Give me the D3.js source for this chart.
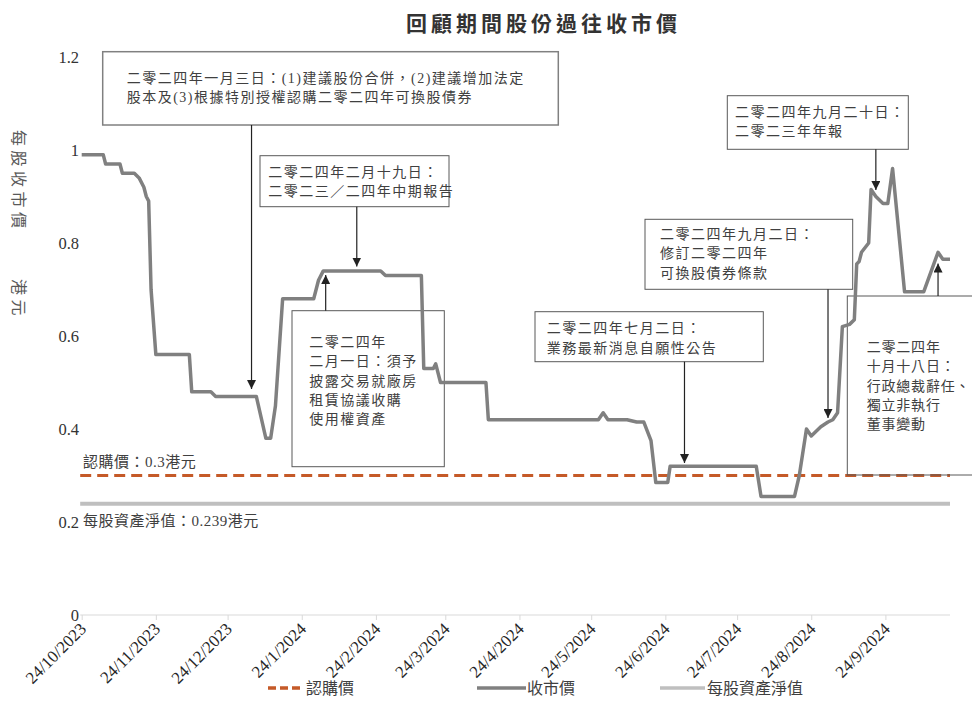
<!DOCTYPE html>
<html>
<head>
<meta charset="utf-8">
<script src="https://cdn.jsdelivr.net/npm/d3@7/dist/d3.min.js"></script>
<style>
  html, body { margin: 0; padding: 0; background: #fff; }
  svg { display: block; }
</style>
</head>
<body>
<svg id="chart" width="972" height="723"></svg>
<script>
// ---------------- DATA ----------------
const closeDates = [
  "2023-10-24","2023-11-02","2023-11-03","2023-11-09","2023-11-10","2023-11-15","2023-11-17","2023-11-19",
  "2023-11-20","2023-11-21","2023-11-22","2023-11-24","2023-12-08","2023-12-09","2023-12-17","2023-12-19",
  "2024-01-05","2024-01-09","2024-01-11","2024-01-13","2024-01-16","2024-01-29","2024-01-31","2024-02-02",
  "2024-02-26","2024-02-28","2024-03-14","2024-03-15","2024-03-19","2024-03-20","2024-03-22","2024-04-10",
  "2024-04-11","2024-05-27","2024-05-29","2024-05-31","2024-06-08","2024-06-12","2024-06-15","2024-06-18",
  "2024-06-20","2024-06-25","2024-06-26","2024-08-01","2024-08-03","2024-08-17","2024-08-19","2024-08-22",
  "2024-08-24","2024-08-28","2024-08-31","2024-09-02","2024-09-04","2024-09-06","2024-09-09","2024-09-11",
  "2024-09-12","2024-09-13","2024-09-14","2024-09-17","2024-09-18","2024-09-20","2024-09-23","2024-09-25",
  "2024-09-27","2024-10-02","2024-10-10","2024-10-16","2024-10-18","2024-10-21"
];
const closePrices = [
  0.99,0.99,0.97,0.97,0.95,0.95,0.94,0.92,
  0.90,0.89,0.70,0.56,0.56,0.48,0.48,0.47,
  0.47,0.38,0.38,0.45,0.68,0.68,0.72,0.74,
  0.74,0.73,0.73,0.53,0.53,0.54,0.50,0.50,
  0.42,0.42,0.435,0.42,0.42,0.415,0.415,0.375,
  0.285,0.285,0.32,0.32,0.255,0.255,0.30,0.40,
  0.385,0.405,0.415,0.42,0.435,0.62,0.625,0.635,
  0.755,0.76,0.78,0.80,0.915,0.90,0.885,0.885,
  0.96,0.695,0.695,0.78,0.765,0.765
];
const subscriptionPrice = 0.3;
const navPerShare = 0.239;
const xDomainDates = ["2023-10-24", "2024-10-21"];
const xTickDates = ["2023-10-24","2023-11-24","2023-12-24","2024-01-24","2024-02-24","2024-03-24",
                    "2024-04-24","2024-05-24","2024-06-24","2024-07-24","2024-08-24","2024-09-24"];
const yTicks = [0, 0.2, 0.4, 0.6, 0.8, 1, 1.2];
const titleText = "回顧期間股份過往收市價";
const yTitleParts = ["每股收市價", "港元"];
const legendLabels = ["認購價", "收市價", "每股資產淨值"];
const refLabels = ["認購價：0.3港元", "每股資產淨值：0.239港元"];

// annotation texts and the dates their arrows point at
const annotationTexts = [
  ["二零二四年一月三日：(1)建議股份合併，(2)建議增加法定", "股本及(3)根據特別授權認購二零二四年可換股債券"],
  ["二零二四年二月十九日：", "二零二三／二四年中期報告"],
  ["二零二四年", "二月一日：須予", "披露交易就廠房", "租賃協議收購", "使用權資產"],
  ["二零二四年七月二日：", "業務最新消息自願性公告"],
  ["二零二四年九月二日：", "修訂二零二四年", "可換股債券條款"],
  ["二零二四年九月二十日：", "二零二三年年報"],
  ["二零二四年", "十月十八日：", "行政總裁辭任、", "獨立非執行", "董事變動"]
];
const annotationArrowDates = ["2024-01-03","2024-02-16","2024-02-03","2024-07-02","2024-08-31","2024-09-20","2024-10-16"];

// ---------------- LAYOUT ----------------
// box: [x, y, w, h]; text: [x, firstBaseline]; arrow: [fromY, toY]
const annLayout = [
  { box: [102.7, 51.7, 455.6, 73.3], text: [126.7, 82.5], arrow: [125, 389], stroke: "#808080", sw: 1.5, ls: 1.5 },
  { box: [260, 155.7, 189, 51],      text: [268.3, 176.7], arrow: [206.7, 266.5], stroke: "#595959", sw: 1, ls: 1.5 },
  { box: [292, 310.7, 152.3, 156],   text: [309.3, 346.7], arrow: [310.7, 275], stroke: "#595959", sw: 1, ls: 1.5 },
  { box: [535, 311.7, 228.3, 50],    text: [546.7, 333.3], arrow: [361.7, 463], stroke: "#595959", sw: 1, ls: 1.5 },
  { box: [645, 219.3, 207.7, 70],    text: [660, 239], arrow: [289.3, 418], stroke: "#595959", sw: 1, ls: 1.5 },
  { box: [727.3, 95.7, 181, 53.6],   text: [735, 116.7], arrow: [149.3, 190], stroke: "#595959", sw: 1, ls: 1.5 },
  { box: [847.3, 296, 160, 179],     text: [866.7, 351.7], arrow: [296, 263.5], stroke: "#595959", sw: 1, ls: 0.8 }
];
const lineHeight = 19.4;

const serif = "'Liberation Serif','Noto Sans CJK TC','Noto Sans CJK SC',serif";
const sans = "'Noto Sans CJK TC','Noto Sans CJK SC',sans-serif";

const svg = d3.select("#chart");
const parse = d3.timeParse("%Y-%m-%d");

const x = d3.scaleTime().domain(xDomainDates.map(parse)).range([81.7, 950]);
const y = d3.scaleLinear().domain([0, 1.2]).range([615, 57]);

// title
svg.append("text")
  .attr("x", 543.5).attr("y", 31)
  .attr("text-anchor", "middle")
  .attr("font-family", sans).attr("font-weight", "bold")
  .attr("font-size", 21).attr("letter-spacing", 4)
  .attr("fill", "#333")
  .text(titleText);

// y axis title (rotated)
[[130, yTitleParts[0]], [279, yTitleParts[1]]].forEach(([yy, t]) => {
  svg.append("text")
    .attr("transform", `translate(18,${yy}) rotate(90)`)
    .attr("dominant-baseline", "central")
    .attr("font-family", serif).attr("font-size", 16).attr("letter-spacing", 4.5)
    .attr("fill", "#595959")
    .text(t);
});

// y tick labels (no axis line)
const yAxis = d3.axisLeft(y).tickValues(yTicks).tickSize(0).tickPadding(0)
  .tickFormat(d => d3.format("")(+d.toFixed(1)));
const gy = svg.append("g").attr("transform", "translate(79,0)").call(yAxis);
gy.select(".domain").remove();
gy.selectAll("text").attr("font-family", serif).attr("font-size", 16.5).attr("fill", "#333");

// x axis
const xAxis = d3.axisBottom(x).tickValues(xTickDates.map(parse)).tickSize(5).tickFormat(d3.timeFormat("%-d/%-m/%Y"));
const gx = svg.append("g").attr("transform", `translate(0,${y(0)})`).call(xAxis);
gx.select(".domain").attr("stroke", "#D9D9D9").attr("d", `M${x.range()[0] - 1.5},0H${x.range()[1]}`);
gx.selectAll(".tick line").attr("stroke", "#D9D9D9");
gx.selectAll(".tick text")
  .attr("font-family", serif).attr("font-size", 17).attr("fill", "#262626")
  .attr("text-anchor", "end")
  .attr("dy", 0)
  .attr("transform", "translate(5,15) rotate(-45)")
  .attr("x", 0).attr("y", 0);

// reference lines
svg.append("line")
  .attr("x1", x.range()[0] - 1.5).attr("x2", x.range()[1])
  .attr("y1", y(subscriptionPrice)).attr("y2", y(subscriptionPrice))
  .attr("stroke", "#C55A28").attr("stroke-width", 3.2).attr("stroke-dasharray", "11,6");
svg.append("line")
  .attr("x1", x.range()[0] - 1.5).attr("x2", x.range()[1])
  .attr("y1", y(navPerShare)).attr("y2", y(navPerShare))
  .attr("stroke", "#BFBFBF").attr("stroke-width", 4);

// ref labels
svg.append("text").attr("x", 83).attr("y", 467)
  .attr("font-family", serif).attr("font-size", 15).attr("letter-spacing", 0.5).attr("fill", "#404040")
  .text(refLabels[0]);
svg.append("text").attr("x", 83).attr("y", 525.5)
  .attr("font-family", serif).attr("font-size", 15).attr("letter-spacing", 0.5).attr("fill", "#404040")
  .text(refLabels[1]);

// annotation boxes + text
const defs = svg.append("defs");
defs.append("marker").attr("id", "ah").attr("viewBox", "0 0 10 10")
  .attr("refX", 10).attr("refY", 5).attr("markerWidth", 9).attr("markerHeight", 9)
  .attr("markerUnits", "userSpaceOnUse").attr("orient", "auto")
  .append("path").attr("d", "M0,0L10,5L0,10Z").attr("fill", "#222");

annotationTexts.forEach((lines, i) => {
  const L = annLayout[i];
  svg.append("rect")
    .attr("x", L.box[0]).attr("y", L.box[1]).attr("width", L.box[2]).attr("height", L.box[3])
    .attr("fill", "none").attr("stroke", L.stroke).attr("stroke-width", L.sw);
  const t = svg.append("text")
    .attr("font-family", serif).attr("font-size", 14).attr("letter-spacing", L.ls).attr("fill", "#404040");
  lines.forEach((ln, j) => {
    t.append("tspan").attr("x", L.text[0]).attr("y", L.text[1] + j * lineHeight).text(ln);
  });
  const ax = x(parse(annotationArrowDates[i]));
  svg.append("line")
    .attr("x1", ax).attr("x2", ax).attr("y1", L.arrow[0]).attr("y2", L.arrow[1])
    .attr("stroke", "#222").attr("stroke-width", 1.2).attr("marker-end", "url(#ah)");
});

// close price line
const closeData = closeDates.map((d, i) => ({ date: parse(d), v: closePrices[i] }));
svg.append("path")
  .datum(closeData)
  .attr("fill", "none").attr("stroke", "#808080").attr("stroke-width", 3.5)
  .attr("stroke-linejoin", "round")
  .attr("d", d3.line().x(d => x(d.date)).y(d => y(d.v)));

// legend
const lg = svg.append("g");
lg.append("line").attr("x1", 268).attr("x2", 300).attr("y1", 688).attr("y2", 688)
  .attr("stroke", "#C55A28").attr("stroke-width", 3.5).attr("stroke-dasharray", "8,4");
lg.append("text").attr("x", 306).attr("y", 694).attr("font-family", serif).attr("font-size", 16)
  .attr("fill", "#404040").text(legendLabels[0]);
lg.append("line").attr("x1", 477).attr("x2", 526).attr("y1", 688).attr("y2", 688)
  .attr("stroke", "#808080").attr("stroke-width", 3.5);
lg.append("text").attr("x", 527).attr("y", 694).attr("font-family", serif).attr("font-size", 16)
  .attr("fill", "#404040").text(legendLabels[1]);
lg.append("line").attr("x1", 660).attr("x2", 705).attr("y1", 688).attr("y2", 688)
  .attr("stroke", "#BFBFBF").attr("stroke-width", 3.5);
lg.append("text").attr("x", 707).attr("y", 694).attr("font-family", serif).attr("font-size", 16)
  .attr("fill", "#404040").text(legendLabels[2]);
</script>
</body>
</html>
